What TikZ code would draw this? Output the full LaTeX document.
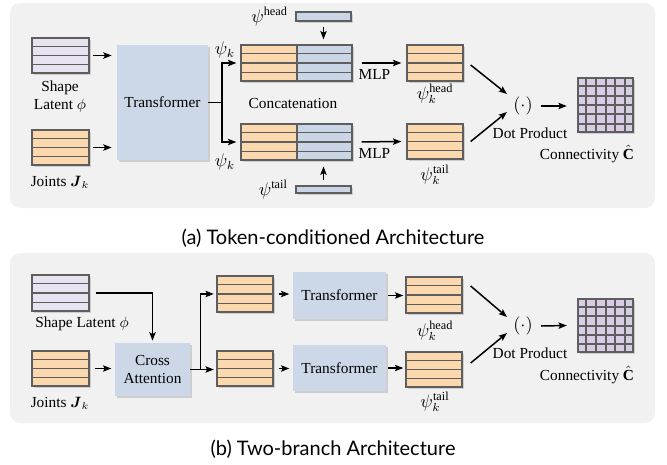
\documentclass[tikz,border=0pt]{standalone}
\usepackage{fontspec}
\usepackage{amsmath}
\setmainfont{Liberation Serif}
\newfontfamily\capfont{Lato}
\usetikzlibrary{arrows.meta,calc,fit,shadows,positioning}

\definecolor{panelgray}{HTML}{F1F1F1}
\definecolor{edgegray}{HTML}{5E5E5E}
\definecolor{latpurple}{HTML}{E7E3F0}
\definecolor{jntorange}{HTML}{FBD8AE}
\definecolor{tokblue}{HTML}{CAD6E6}
\definecolor{blockblue}{HTML}{CCD8E7}
\definecolor{cellpurple}{HTML}{D9CDE6}

\tikzset{
  arr/.style={-{Stealth[length=5pt,width=3.8pt,inset=1pt]}, line width=0.9pt},
  shade/.style={drop shadow={shadow xshift=0.9pt, shadow yshift=-0.9pt, opacity=0.3}},
  stack/.style={draw=edgegray, line width=0.8pt, fill=#1, inner sep=0pt, shade},
  block/.style={fill=blockblue, inner sep=0pt, align=center, shade},
  rowline/.style={edgegray, line width=0.8pt},
  gridline/.style={edgegray, line width=1.2pt},
  panel/.style={fill=panelgray, rounded corners=6pt},
  sym/.style={font=\fontsize{10.5}{12}\selectfont}
}

% three row lines inside a token stack
\newcommand{\rows}[1]{\foreach \f in {0.25,0.5,0.75}
  \draw[rowline] ($(#1.north west)!\f!(#1.south west)$) -- ($(#1.north east)!\f!(#1.south east)$);}
% 6x6 cells of the connectivity matrix
\newcommand{\cells}[1]{\foreach \f in {1,...,5} {
  \draw[gridline] ($(#1.north west)!{\f/6}!(#1.north east)$) -- ($(#1.south west)!{\f/6}!(#1.south east)$);
  \draw[gridline] ($(#1.north west)!{\f/6}!(#1.south west)$) -- ($(#1.north east)!{\f/6}!(#1.south east)$);}}

\begin{document}
\begin{tikzpicture}[x=0.6pt, y=-0.6pt, font=\fontsize{9.2}{10.8}\selectfont]
\useasboundingbox (0,0) rectangle (667,465);

%%%%% (a) token-conditioned
\fill[panel] (10,3) rectangle (655,208);

\node[stack=latpurple, fit={(32,38) (89,73)}] (lat_a) {};
\node[stack=jntorange, fit={(32,130) (89,165)}] (jnt_a) {};
\rows{lat_a} \rows{jnt_a}
\node[align=center] (latlab_a) at (60,97) {Shape\\Latent $\phi$};
\node (jntlab_a) at (60,182) {Joints $\boldsymbol{J}_k$};

\node[block, fit={(117,45) (208,160)}] (trf_a) {};
\node at (trf_a) {Transformer};
\draw[arr, shorten <=1.8pt, shorten >=3pt] (lat_a.east) -- (lat_a.east -| trf_a.west);
\draw[arr, shorten <=1.8pt, shorten >=3pt] (jnt_a.east) -- (jnt_a.east -| trf_a.west);

\node[stack=jntorange, fit={(241,45) (297,81)}] (cathl_a) {};
\node[stack=tokblue, fit={(297,45) (352,81)}] (cathr_a) {};
\node[stack=jntorange, fit={(241,124) (297,160)}] (catTl_a) {};
\node[stack=tokblue, fit={(297,124) (352,160)}] (catTr_a) {};
\rows{cathl_a} \rows{cathr_a} \rows{catTl_a} \rows{catTr_a}
\node (concat_a) at (293,103) {Concatenation};

\coordinate (br_a) at (222,102.5);
\draw[line width=0.9pt] (trf_a.east) -- (br_a);
\draw[arr, shorten >=2.4pt] (br_a) |- (cathl_a.west);
\draw[arr, shorten >=2.4pt] (br_a) |- (catTl_a.west);
\node[sym] (psih_a) at (225,50) {$\psi_k$};
\node[sym] (psit_a) at (225,162) {$\psi_k$};

\node[stack=tokblue, fit={(296,12) (351,21)}] (hbar_a) {};
\node[stack=tokblue, fit={(296,186) (351,193)}] (tbar_a) {};
\node[sym, left=1pt of hbar_a] (hlab_a) {$\psi^{\text{head}}$};
\node[sym, left=1pt of tbar_a] (tlab_a) {$\psi^{\text{tail}}$};
\draw[arr, shorten <=3pt, shorten >=3pt] (hbar_a.south) -- (hbar_a.south |- cathr_a.north);
\draw[arr, shorten <=3.5pt, shorten >=3.5pt] (tbar_a.north) -- (tbar_a.north |- catTr_a.south);

\node[stack=jntorange, fit={(407,45) (463,81)}] (outh_a) {};
\node[stack=jntorange, fit={(407,124) (463,159)}] (outt_a) {};
\rows{outh_a} \rows{outt_a}
\draw[arr, shorten <=5.4pt, shorten >=3pt] (cathr_a.east) -- (outh_a.west) node[midway, below=0pt, xshift=-3pt] {MLP};
\draw[arr, shorten <=5.4pt, shorten >=3pt] (catTr_a.east) -- (outt_a.west) node[midway, below=0pt, xshift=-3pt] {MLP};
\node[sym] (psiho_a) at (435,94) {$\psi_k^{\text{head}}$};
\node[sym] (psito_a) at (435,175) {$\psi_k^{\text{tail}}$};

\node[sym] (dot_a) at (523,106) {$(\cdot)$};
\node (dp_a) at (530,133) {Dot Product};
\draw[arr] ($(outh_a.east)+(7,2)$) -- ($(dot_a)+(-16,-12)$);
\draw[arr] ($(outt_a.east)+(7,0)$) -- ($(dot_a)+(-16,6)$);

\node[draw=edgegray, line width=1.4pt, fill=cellpurple, inner sep=0pt, shade, fit={(578,78) (633,132)}] (grid_a) {};
\cells{grid_a}
\draw[arr] ($(dot_a)+(18,0)$) -- ($(grid_a.west)+(-10,1)$);
\node (conn_a) at (587,154) {Connectivity $\hat{\mathbf{C}}$};

\node (cap_a) at (333,238) {\capfont\fontsize{12}{14}\selectfont (a) Token-conditioned Architecture};

%%%%% (b) two-branch
\fill[panel] (10,253) rectangle (655,423);

\node[stack=latpurple, fit={(32,275) (89,311)}] (lat_b) {};
\node[stack=jntorange, fit={(32,351) (89,386)}] (jnt_b) {};
\rows{lat_b} \rows{jnt_b}
\node (latlab_b) at (82,324) {Shape Latent $\phi$};
\node (jntlab_b) at (60,403) {Joints $\boldsymbol{J}_k$};

\node[block, fit={(115,343) (190,396)}] (crs_b) {};
\node[align=center] at (crs_b) {Cross\\Attention};
\draw[arr, shorten <=3.6pt, shorten >=1.2pt] (lat_b.east) -| (crs_b.north);
\draw[arr, shorten <=3pt, shorten >=2pt] (jnt_b.east) -- (jnt_b.east -| crs_b.west);

\node[stack=jntorange, fit={(217,276) (273,312)}] (s1_b) {};
\node[stack=jntorange, fit={(217,351) (273,386)}] (s2_b) {};
\rows{s1_b} \rows{s2_b}
\coordinate (br_b) at ($(crs_b.east)+(10,0)$);
\draw[arr, shorten >=1.5pt] (crs_b.east) -- (crs_b.east -| s2_b.west);
\draw[arr, shorten >=1.5pt] (br_b) |- (s1_b.west);

\node[block, fit={(293,272) (386,319)}] (trf1_b) {};
\node[block, fit={(293,345) (386,391)}] (trf2_b) {};
\node at (trf1_b) {Transformer};
\node at (trf2_b) {Transformer};
\draw[arr, shorten <=3pt, shorten >=2pt] (s1_b.east) -- (s1_b.east -| trf1_b.west);
\draw[arr, shorten <=3pt, shorten >=2pt] (s2_b.east) -- (s2_b.east -| trf2_b.west);

\node[stack=jntorange, fit={(406,277) (462,313)}] (o1_b) {};
\node[stack=jntorange, fit={(406,352) (462,387)}] (o2_b) {};
\rows{o1_b} \rows{o2_b}
\draw[arr, shorten <=1.2pt, shorten >=1.2pt] (trf1_b.east) -- (trf1_b.east -| o1_b.west);
\draw[arr, shorten <=1.2pt, shorten >=1.2pt] (trf2_b.east) -- (trf2_b.east -| o2_b.west);
\node[sym] (psiho_b) at (435,331) {$\psi_k^{\text{head}}$};
\node[sym] (psito_b) at (435,402) {$\psi_k^{\text{tail}}$};

\node[sym] (dot_b) at (523,326) {$(\cdot)$};
\node (dp_b) at (530,353) {Dot Product};
\draw[arr] ($(o1_b.east)+(8,-9)$) -- ($(dot_b)+(-16,-9)$);
\draw[arr] ($(o2_b.east)+(8,-6.5)$) -- ($(dot_b)+(-16,7)$);

\node[draw=edgegray, line width=1.4pt, fill=cellpurple, inner sep=0pt, shade, fit={(578,299) (633,352)}] (grid_b) {};
\cells{grid_b}
\draw[arr] ($(dot_b)+(18,0)$) -- ($(grid_b.west)+(-10,0)$);
\node (conn_b) at (587,375) {Connectivity $\hat{\mathbf{C}}$};

\node (cap_b) at (333,449) {\capfont\fontsize{12}{14}\selectfont (b) Two-branch Architecture};

\end{tikzpicture}
\end{document}
